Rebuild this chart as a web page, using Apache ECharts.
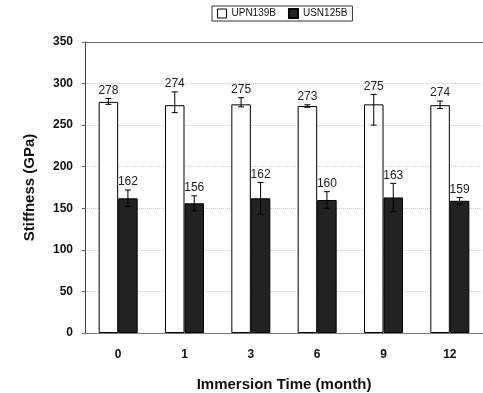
<!DOCTYPE html>
<html><head><meta charset="utf-8">
<script src="https://cdn.jsdelivr.net/npm/echarts@6/dist/echarts.min.js"></script>
<style>html,body{margin:0;padding:0;background:#fff}#c{width:483px;height:393px}</style>
</head><body><div id="c"></div>
<script>
const categories = ['0', '1', '3', '6', '9', '12'];
const seriesNames = ['UPN139B', 'USN125B'];
const upn = [278, 274, 275, 273, 275, 274];
const usn = [162, 156, 162, 160, 163, 159];
const upnErrLow = [3, 9, 3, 1.5, 25, 4];
const upnErrHigh = [4, 16, 8, 1.5, 12, 5];
const usnErrLow = [10, 9, 19, 10, 17, 4];
const usnErrHigh = [10, 9, 19, 10, 17, 4];
const yTicks = [0, 50, 100, 150, 200, 250, 300, 350];

const chart = echarts.init(document.getElementById('c'));

function errData(vals, lo, hi) {
  return vals.map((v, i) => [i, v - lo[i], v + hi[i], v]);
}
function errSeries(vals, lo, hi, idx) {
  return {
    type: 'custom',
    name: seriesNames[idx] + ' err',
    data: errData(vals, lo, hi),
    z: 5,
    renderItem: function (params, api) {
      const i = api.value(0);
      const low = api.coord([i, api.value(1)]);
      const high = api.coord([i, api.value(2)]);
      const barW = 19.5;
      const x = low[0] + (idx === 0 ? -barW / 2 : barW / 2);
      const cap = 3;
      const st = { stroke: '#000', lineWidth: 1 };
      return {
        type: 'group',
        children: [
          { type: 'line', shape: { x1: x, y1: low[1], x2: x, y2: high[1] }, style: st },
          { type: 'line', shape: { x1: x - cap, y1: low[1], x2: x + cap, y2: low[1] }, style: st },
          { type: 'line', shape: { x1: x - cap, y1: high[1], x2: x + cap, y2: high[1] }, style: st },
          { type: 'text', x: x, y: high[1] - 2, style: { text: String(api.value(3)), fill: '#222', font: '12px Arial, "Liberation Sans"', align: 'center', verticalAlign: 'bottom' } }
        ]
      };
    }
  };
}

chart.setOption({
  animation: false,
  backgroundColor: '#fff',
  legend: {
    top: 6, left: 212, itemWidth: 9, itemHeight: 9, itemGap: 12,
    padding: [2, 5, 2, 5],
    borderColor: '#333', borderWidth: 1,
    textStyle: { fontFamily: 'Arial, "Liberation Sans"', fontSize: 10, color: '#111' },
    data: seriesNames.map((n, i) => ({ name: n, icon: 'rect', itemStyle: i === 0 ? { color: '#fff', borderColor: '#000', borderWidth: 1 } : { color: '#222' } }))
  },
  grid: { left: 85, right: 0, top: 42, bottom: 60, containLabel: false, outerBoundsMode: 'none' },
  xAxis: [{
    type: 'category', data: categories,
    name: 'Immersion Time (month)', nameLocation: 'middle', nameGap: 44,
    nameTextStyle: { fontFamily: 'Arial, "Liberation Sans"', fontWeight: 'bold', fontSize: 15, color: '#111' },
    axisLine: { lineStyle: { color: '#777', width: 1 } },
    axisTick: { inside: true, length: 4, lineStyle: { color: '#555' } },
    axisLabel: { fontFamily: 'Arial, "Liberation Sans"', fontWeight: 'bold', fontSize: 12, color: '#111', margin: 16 }
  }, {
    type: 'category', data: categories, position: 'top',
    axisLine: { lineStyle: { color: '#666' } }, axisTick: { show: false }, axisLabel: { show: false }
  }],
  yAxis: {
    type: 'value', min: 0, max: 350, interval: 50,
    name: 'Stiffness (GPa)', nameLocation: 'middle', nameGap: 48,
    nameTextStyle: { fontFamily: 'Arial, "Liberation Sans"', fontWeight: 'bold', fontSize: 15, color: '#111' },
    axisLine: { show: true, lineStyle: { color: '#444' } },
    axisTick: { show: true, length: 3, lineStyle: { color: '#666' } },
    axisLabel: { fontFamily: 'Arial, "Liberation Sans"', fontWeight: 'bold', fontSize: 12, color: '#111', margin: 12,
      formatter: v => yTicks.includes(v) ? String(v) : '' },
    splitLine: { show: true, lineStyle: { color: '#ccc', type: 'dotted', width: 1 } }
  },
  series: [
    { type: 'bar', name: seriesNames[0], data: upn, barWidth: 19.5, barGap: '0%',
      itemStyle: { color: '#fff', borderColor: '#000', borderWidth: 1 } },
    { type: 'bar', name: seriesNames[1], data: usn, barWidth: 19.5,
      itemStyle: { color: '#222', borderColor: '#000', borderWidth: 1 } },
    errSeries(upn, upnErrLow, upnErrHigh, 0),
    errSeries(usn, usnErrLow, usnErrHigh, 1)
  ]
});
</script></body></html>
